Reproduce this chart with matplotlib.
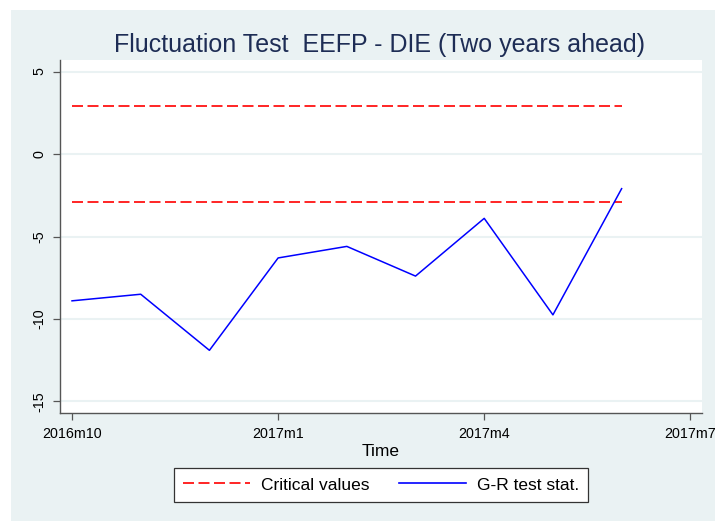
import matplotlib
matplotlib.use("Agg")
import matplotlib.pyplot as plt
from matplotlib.patches import Rectangle
from matplotlib.lines import Line2D

plt.rcParams['font.family'] = ['Liberation Sans', 'DejaVu Sans']

# Data (months since 2016m10)
months = [0, 1, 2, 3, 4, 5, 6, 7, 8]
gr_stat = [-8.9, -8.5, -11.9, -6.3, -5.6, -7.4, -3.9, -9.75, -2.1]
crit_upper = [2.91] * 9
crit_lower = [-2.91] * 9
xtick_pos = [0, 3, 6, 9]
xtick_labels = ["2016m10", "2017m1", "2017m4", "2017m7"]
ytick_pos = [-15, -10, -5, 0, 5]
ytick_labels = ["-15", "-10", "-5", "0", "5"]

W, H = 715, 521
fig = plt.figure(figsize=(W / 100, H / 100), dpi=100)
fig.patch.set_facecolor("white")
bg = "#EAF2F3"
fig.patches.append(Rectangle((11 / W, 0), 1 - 11 / W, 1 - 10 / H,
                             transform=fig.transFigure, facecolor=bg,
                             edgecolor="none", zorder=-10))

ax = fig.add_axes([60 / W, (H - 413) / H, 642 / W, 353 / H])
ax.set_zorder(5)
ax.set_facecolor("white")

dash = (6.6, 2.7)
ax.plot(months, crit_upper, color="#FF0000", lw=1.2, dashes=dash)
ax.plot(months, crit_lower, color="#FF0000", lw=1.2, dashes=dash)
ax.plot(months, gr_stat, color="#0000FF", lw=1.1)

ax.set_xlim(-0.175, 9.17)
ax.set_ylim(-15.7, 5.7)
ax.set_xticks(xtick_pos)
ax.set_xticklabels(xtick_labels, fontsize=10.3)
ax.set_yticks(ytick_pos)
ax.set_yticklabels(ytick_labels, fontsize=10.3, rotation=90, va="center")
ax.yaxis.grid(True, color=bg, lw=1.5)
ax.set_axisbelow(True)
for s in ["top", "right"]:
    ax.spines[s].set_visible(False)
for s in ["left", "bottom"]:
    ax.spines[s].set_color("#555555")
    ax.spines[s].set_linewidth(1.0)
ax.tick_params(axis="both", direction="out", length=5, width=0.9,
               color="#555555", labelcolor="black", pad=5)

ax.set_xlabel("Time", fontsize=12.5, labelpad=2)
fig.text(379 / W, 1 - 45 / H, "Fluctuation Test  EEFP - DIE (Two years ahead)",
         ha="center", va="center", fontsize=18, color="#1E2D55", zorder=6)

handles = [Line2D([], [], color="#FF0000", lw=1.2, dashes=dash),
           Line2D([], [], color="#0000FF", lw=1.2)]
leg = fig.legend(handles, ["Critical values", "G-R test stat."],
                 loc="center", bbox_to_anchor=(381 / W, 1 - 485 / H),
                 ncol=2, fontsize=12.5, frameon=True, fancybox=False,
                 edgecolor="#333333", facecolor="white", framealpha=1,
                 handlelength=3.85, columnspacing=1.7,
                 borderpad=0.55, handletextpad=0.63)
leg.get_frame().set_linewidth(0.9)
leg.set_zorder(6)

fig.savefig("out.png", dpi=100, facecolor=fig.get_facecolor())
